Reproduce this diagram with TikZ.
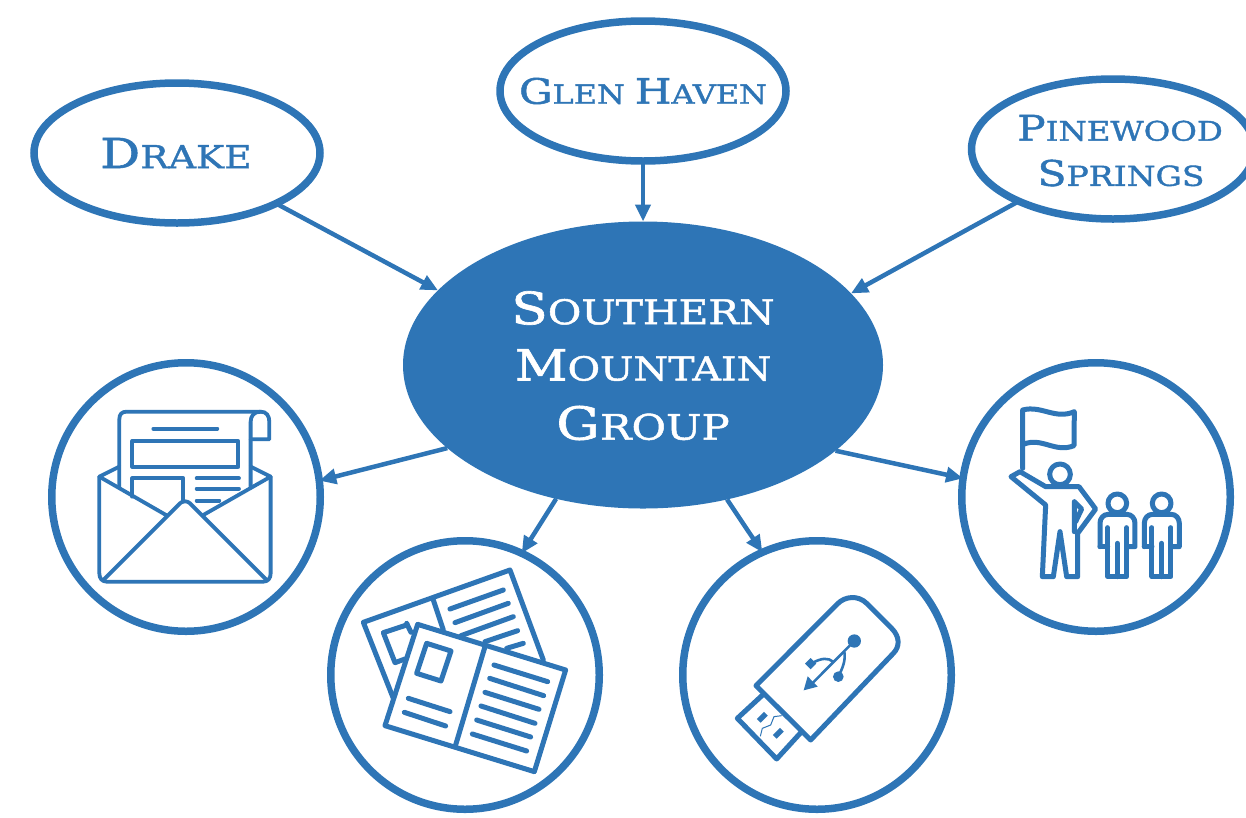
\documentclass[tikz,border=0pt]{standalone}
\usepackage{fontspec}
\setmainfont[FakeStretch=1.2,FakeBold=1.4]{DejaVu Serif}
\usetikzlibrary{shapes.geometric,arrows.meta}
\definecolor{smblue}{HTML}{2E75B6}
\newcommand{\capt}[4]{{\fontsize{#1}{#1}\selectfont #3\fontsize{#2}{#2}\selectfont #4}}
\tikzset{
  oval/.style={ellipse,draw=smblue,line width=7.5pt,fill=white,inner sep=0pt,outer sep=0pt,minimum width=#1,minimum height=140pt},
  ring/.style={circle,draw=smblue,line width=7.5pt,fill=white,inner sep=0pt,outer sep=0pt,minimum size=268.5pt},
  hub/.style={ellipse,fill=smblue,inner sep=0pt,outer sep=0pt,minimum width=480pt,minimum height=287pt},
  txt/.style={text=smblue,align=center,inner sep=0pt},
  link/.style={draw=smblue,line width=4.5pt,-{Triangle[length=17pt,width=15pt]},shorten >=0pt},
  icon/.style={draw=smblue,line width=3.8pt,line join=round,line cap=round},
  iconb/.style={draw=smblue,line width=5pt,line join=round,line cap=round}
}
\begin{document}
\begin{tikzpicture}[x=1pt,y=-1pt]
\useasboundingbox (0,0) rectangle (1246,817);
\node[oval=286pt] (drake) at (177,153) {};
\node[oval=286pt] (glen) at (643,91) {};
\node[oval=283pt] (pine) at (1113,149) {};
\node[hub] (south) at (643,365) {};
\node[ring] (mail) at (186,497) {};
\node[ring] (broch) at (465,675) {};
\node[ring] (usb) at (817,675) {};
\node[ring] (team) at (1096,497) {};

\node[txt] (drakeT) at (176,153) {\capt{41.5}{31.5}{D}{RAKE}};
\node[txt] (glenT) at (643,91) {\capt{35}{26.5}{G}{LEN }\capt{35}{26.5}{H}{AVEN}};
\node[txt] (pineT) at (1120,128) {\capt{35.3}{27}{P}{INEWOOD}};
\node[txt] (pineU) at (1121,173) {\capt{35.3}{27.5}{S}{PRINGS}};
\node[txt,text=white] (southT) at (643,308) {\capt{44.5}{34}{S}{OUTHERN}};
\node[txt,text=white] (southU) at (643,365) {\capt{43}{33}{M}{OUNTAIN}};
\node[txt,text=white] (southV) at (643,423) {\capt{45.5}{35}{G}{ROUP}};

\draw[link] (drake.-27.6) -- (south.160.2);
\draw[link] (glen.-90) -- (south.90);
\draw[link] (pine.209) -- (south.19.7);
\draw[link] (south.203.8) -- (mail.7.9);
\draw[link] (south.237) -- (broch.65.5);
\draw[link] (south.-58.2) -- (usb.114.9);
\draw[link] (south.-24.1) -- (team.172);

% envelope
\begin{scope}[shift={(40,360)},x=0.3333pt,y=-0.3333pt]
\draw[icon] (238,385) -- (238,178) .. controls (238,163) and (245,155) .. (260,155) -- (662,155) .. controls (680,155) and (688,168) .. (688,185) -- (688,238) -- (632,238);
\draw[icon] (662,155) .. controls (642,155) and (632,168) .. (632,185) -- (632,380);
\draw[icon] (340,206) -- (532,206);
\draw[icon] (277,243) rectangle (595,320);
\draw[icon] (277,410) -- (277,355) -- (430,355) -- (430,425);
\draw[icon] (470,355) -- (597,355) (470,386) -- (597,386) (470,422) -- (538,422);
\draw[icon] (178,350) -- (178,640) .. controls (178,655) and (186,665) .. (200,665) -- (670,665) .. controls (684,665) and (692,655) .. (692,640) -- (692,350);
\draw[icon] (238,320) -- (178,350) -- (378,465);
\draw[icon] (632,320) -- (692,350) -- (490,465);
\draw[icon] (190,660) -- (420,430) .. controls (428,422) and (442,422) .. (450,430) -- (680,660);
\end{scope}

% brochures
\begin{scope}[shift={(325,535)},x=0.3333pt,y=-0.3333pt]
\draw[iconb] (205,490) -- (115,262) -- (555,105) -- (655,375);
\draw[iconb] (325,195) -- (355,285);
\draw[iconb] (245,270) -- (175,293) -- (210,383) -- (240,372);
\draw[iconb] (245,265) -- (258,292);
\draw[iconb] (375,222) -- (535,165) (390,263) -- (550,205) (408,302) -- (565,245) (480,320) -- (578,287) (545,340) -- (595,325);
\draw[iconb] (278,268) -- (722,405) -- (628,710) -- (180,572) -- cycle;
\draw[iconb] (480,335) -- (392,630);
\draw[iconb] (305,325) -- (378,348) -- (348,438) -- (275,415) -- cycle;
\draw[iconb] (250,490) -- (375,530) (238,532) -- (362,573);
\draw[iconb] (507,390) -- (668,440) (494,430) -- (656,482) (480,472) -- (642,523) (468,513) -- (630,565) (455,555) -- (617,606) (442,597) -- (605,648);
\end{scope}

% usb stick
\begin{scope}[shift={(675,535)},x=0.3333pt,y=-0.3333pt]
\draw[iconb] (243,452) -- (487,207) .. controls (510,183) and (550,180) .. (575,205) -- (650,280) .. controls (675,305) and (675,335) .. (655,355) -- (407,615) -- cycle;
\draw[iconb] (265,478) -- (187,550) -- (305,672) -- (380,590);
\fill[smblue,rotate around={45:(262,547)}] (247,539) rectangle (277,555);
\fill[smblue,rotate around={45:(310,595)}] (295,587) rectangle (325,603);
\draw[smblue,line width=1pt] (320,542) -- (297,545) -- (287,570) -- (262,580) -- (256,604);
\fill[smblue] (538,318) circle (20);
\fill[smblue] (490,425) circle (16);
\draw[smblue,line width=2.6pt] (538,318) -- (412,445);
\draw[smblue,line width=2.6pt] (508,350) .. controls (512,375) and (505,395) .. (490,425);
\draw[smblue,line width=2.6pt] (474,380) .. controls (460,368) and (440,368) .. (410,385);
\fill[smblue] (386,466) -- (428,455) -- (398,424) -- cycle;
\fill[smblue,rotate around={45:(407,386)}] (395,374) rectangle (419,398);
\end{scope}

% team
\begin{scope}[shift={(955,355)},x=0.3333pt,y=-0.3333pt]
\draw[iconb] (203,340) -- (203,165) .. controls (260,150) and (300,195) .. (358,170) -- (357,272) .. controls (300,295) and (260,245) .. (205,268);
\draw[iconb] (315,358) circle (31);
\draw[iconb] (195,350) -- (272,395) -- (372,395) -- (422,462) -- (368,535) -- (368,665) -- (335,665) -- (315,530) -- (295,665) -- (262,665) -- (272,450) -- (168,365) -- cycle;
\draw[iconb] (358,440) -- (358,530) (358,440) -- (380,462) -- (362,500);
\foreach \dx in {0,133} {
  \draw[iconb] (487+\dx,445) circle (28);
  \draw[iconb] (435+\dx,575) -- (435+\dx,505) .. controls (435+\dx,490) and (445+\dx,478) .. (460+\dx,478) -- (515+\dx,478) .. controls (530+\dx,478) and (540+\dx,490) .. (540+\dx,505) -- (540+\dx,575) -- (515+\dx,575);
  \draw[iconb] (435+\dx,575) -- (458+\dx,575);
  \draw[iconb] (458+\dx,518) -- (458+\dx,665) -- (515+\dx,665) -- (515+\dx,518);
  \draw[iconb] (487+\dx,565) -- (487+\dx,665);
}
\end{scope}
\end{tikzpicture}
\end{document}
